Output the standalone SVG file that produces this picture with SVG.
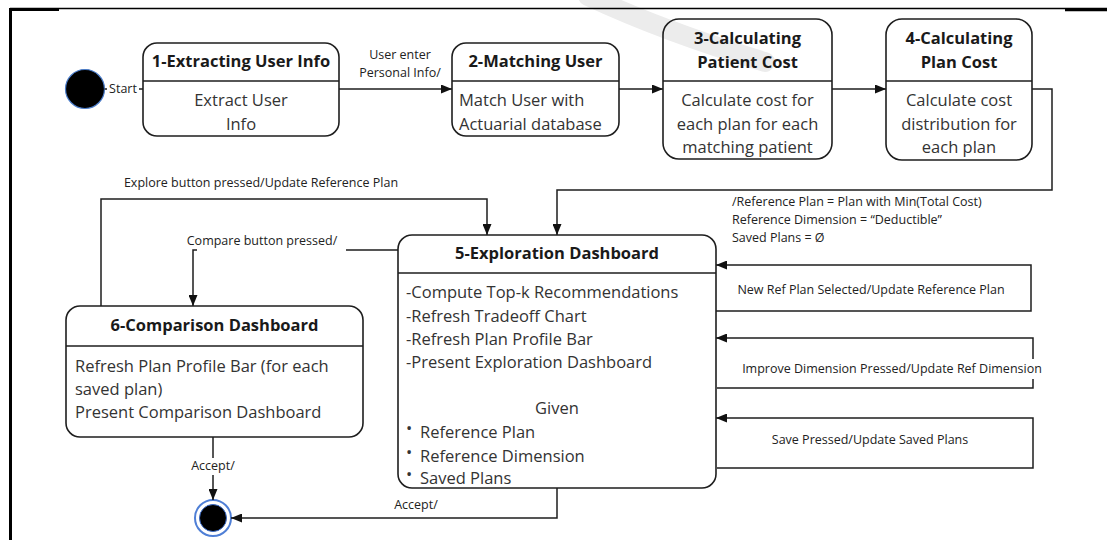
<svg xmlns="http://www.w3.org/2000/svg" width="1107" height="540" viewBox="0 0 1107 540">
<style>
.frame{stroke:#000;fill:none}
.box{fill:none;stroke:#1e1e1e;stroke-width:1.6}
.dv{stroke:#1e1e1e;stroke-width:1.5}
.t{font-family:"Open Sans","Liberation Sans",sans-serif;font-weight:700;font-size:16.5px;fill:#1a1a1a;text-anchor:middle}
.b{font-family:"Open Sans","Liberation Sans",sans-serif;font-size:16.5px;fill:#333}
.bc{text-anchor:middle}
.l{font-family:"Open Sans","Liberation Sans",sans-serif;font-size:12.5px;fill:#222}
.lc{text-anchor:middle}
.conn path{fill:none;stroke:#1e1e1e;stroke-width:1.5}
.conn path.a{marker-end:url(#arr)}
.bg{fill:#fff}
</style>
<defs>
<marker id="arr" markerUnits="userSpaceOnUse" markerWidth="11" markerHeight="9" refX="11" refY="4.5" orient="auto">
<path d="M0,0 L11,4.5 L0,9 z" fill="#111"/>
</marker>
</defs>
<rect width="1107" height="540" fill="#fff"/>
<path d="M588,-4 Q665,32 765,62" stroke="#ececec" stroke-width="20" fill="none" stroke-linecap="round"/>
<g id="frame">
<line class="frame" x1="10" y1="8.5" x2="1107" y2="8.5" stroke-width="1.5"/>
<line class="frame" x1="9" y1="9.5" x2="59" y2="9.5" stroke-width="3"/>
<line class="frame" x1="1065" y1="10" x2="1107" y2="10" stroke-width="2.5"/>
<line class="frame" x1="10.5" y1="8" x2="10.5" y2="540" stroke-width="3"/>
</g>
<g id="start">
<circle cx="85" cy="89" r="19.5" fill="#000" stroke="#4a7cc9" stroke-width="1.2"/>
</g>
<g id="end">
<circle cx="213" cy="518" r="18" fill="#fff" stroke="#4f7fd6" stroke-width="2"/>
<circle cx="213" cy="518" r="13.5" fill="#000" stroke="#3a6bc8" stroke-width="1"/>
</g>
<g id="conns" class="conn">
<path d="M104.5,89 H143"/>
<path class="a" d="M339,89 H452"/>
<path class="a" d="M619,89 H663"/>
<path class="a" d="M832,89 H886"/>
<path class="a" d="M1032,89 H1052 V190 H557 V235"/>
<path class="a" d="M398,250 H193 V306"/>
<path class="a" d="M101,306 V199 H487 V235"/>
<path class="a" d="M716,311 H1031 V265 H716"/>
<path class="a" d="M717,388 H1033 V338 H716"/>
<path class="a" d="M717,468 H1033 V418 H716"/>
<path class="a" d="M213,437 V500"/>
<path class="a" d="M557,488 V518 H231"/>
</g>
<g id="labels">
<rect class="bg" x="107" y="81" width="32" height="16"/>
<text class="l lc" x="123" y="93" font-size="11">Start</text>
<text class="l lc" x="400" y="59" font-size="12">User enter</text>
<text class="l lc" x="400" y="77" font-size="12">Personal Info/</text>
<text class="l" x="732" y="206">/Reference Plan = Plan with Min(Total Cost)</text>
<text class="l" x="732" y="224">Reference Dimension = “Deductible”</text>
<text class="l" x="732" y="242">Saved Plans = Ø</text>
<text class="l lc" x="261" y="187">Explore button pressed/Update Reference Plan</text>
<rect class="bg" x="197" y="232" width="149" height="21"/>
<text class="l lc" x="262" y="245">Compare button pressed/</text>
<text class="l lc" x="871" y="294">New Ref Plan Selected/Update Reference Plan</text>
<rect class="bg" x="728" y="359" width="330" height="20"/>
<text class="l lc" x="892" y="373">Improve Dimension Pressed/Update Ref Dimension</text>
<text class="l lc" x="870" y="444">Save Pressed/Update Saved Plans</text>
<rect class="bg" x="190" y="458" width="48" height="17"/>
<text class="l lc" x="213" y="470">Accept/</text>
<text class="l lc" x="416" y="509">Accept/</text>
</g>
<g id="s1">
<rect class="box" x="143" y="43" width="196" height="93" rx="14"/>
<line class="dv" x1="143" y1="81" x2="339" y2="81"/>
<text class="t" x="241" y="67">1-Extracting User Info</text>
<text class="b bc" x="241" y="106">Extract User</text>
<text class="b bc" x="241" y="130">Info</text>
</g>
<g id="s2">
<rect class="box" x="452" y="43" width="167" height="93" rx="14"/>
<line class="dv" x1="452" y1="81" x2="619" y2="81"/>
<text class="t" x="535.5" y="67">2-Matching User</text>
<text class="b" x="459" y="106">Match User with</text>
<text class="b" x="459" y="130">Actuarial database</text>
</g>
<g id="s3">
<rect class="box" x="663" y="19" width="169" height="140" rx="16"/>
<line class="dv" x1="663" y1="81" x2="832" y2="81"/>
<text class="t" x="747.5" y="44">3-Calculating</text>
<text class="t" x="747.5" y="68">Patient Cost</text>
<text class="b bc" x="747.5" y="106">Calculate cost for</text>
<text class="b bc" x="747.5" y="130">each plan for each</text>
<text class="b bc" x="747.5" y="153">matching patient</text>
</g>
<g id="s4">
<rect class="box" x="886" y="19" width="146" height="141" rx="16"/>
<line class="dv" x1="886" y1="81" x2="1032" y2="81"/>
<text class="t" x="959" y="44">4-Calculating</text>
<text class="t" x="959" y="68">Plan Cost</text>
<text class="b bc" x="959" y="106">Calculate cost</text>
<text class="b bc" x="959" y="130">distribution for</text>
<text class="b bc" x="959" y="153">each plan</text>
</g>
<g id="s5">
<rect class="box" x="398" y="235" width="318" height="253" rx="14"/>
<line class="dv" x1="398" y1="273" x2="716" y2="273"/>
<text class="t" x="557" y="259">5-Exploration Dashboard</text>
<text class="b" x="406" y="298">-Compute Top-k Recommendations</text>
<text class="b" x="406" y="322">-Refresh Tradeoff Chart</text>
<text class="b" x="406" y="345">-Refresh Plan Profile Bar</text>
<text class="b" x="406" y="368">-Present Exploration Dashboard</text>
<text class="b bc" x="557" y="414">Given</text>
<text class="b" x="406" y="434" font-size="11">•</text>
<text class="b" x="420" y="438">Reference Plan</text>
<text class="b" x="406" y="458" font-size="11">•</text>
<text class="b" x="420" y="462">Reference Dimension</text>
<text class="b" x="406" y="480" font-size="11">•</text>
<text class="b" x="420" y="484">Saved Plans</text>
</g>
<g id="s6">
<rect class="box" x="66" y="306" width="297" height="131" rx="14"/>
<line class="dv" x1="66" y1="346" x2="363" y2="346"/>
<text class="t" x="214.5" y="331">6-Comparison Dashboard</text>
<text class="b" x="75" y="372">Refresh Plan Profile Bar (for each</text>
<text class="b" x="75" y="395">saved plan)</text>
<text class="b" x="75" y="418">Present Comparison Dashboard</text>
</g>
</svg>
